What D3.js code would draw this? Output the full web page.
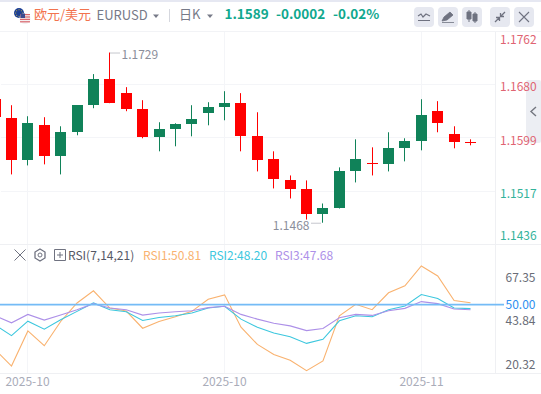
<!DOCTYPE html>
<html>
<head>
<meta charset="utf-8">
<script src="https://cdn.jsdelivr.net/npm/d3@7"></script>
<style>
    html, body { margin: 0; padding: 0; background: #fff; overflow: hidden; }
    text { font-family: "Noto Sans CJK SC", "Noto Sans", sans-serif; }
</style>
</head>
<body>
<div id="chart"></div>
<script>
// daily candles, first one is cut off by the left edge
var opens = [1.16574, 1.16282, 1.15636, 1.16174, 1.15698, 1.16067, 1.16482, 1.16882, 1.16667, 1.16421, 1.15990, 1.16113, 1.16190, 1.16359, 1.16451, 1.16513, 1.16005, 1.15652, 1.15329, 1.15190, 1.14821, 1.14913, 1.15467, 1.15590, 1.15575, 1.15821, 1.15928, 1.16390, 1.16036, 1.15920];
var closes = [1.16298, 1.15636, 1.16205, 1.15698, 1.16067, 1.16482, 1.16882, 1.16513, 1.16421, 1.15990, 1.16113, 1.16190, 1.16267, 1.16451, 1.16513, 1.16005, 1.15636, 1.15344, 1.15190, 1.14821, 1.14913, 1.15467, 1.15652, 1.15575, 1.15821, 1.15928, 1.16328, 1.16205, 1.15913, 1.15905];
var highs = [1.16574, 1.16482, 1.16313, 1.16298, 1.16159, 1.16482, 1.16959, 1.17290, 1.16759, 1.16559, 1.16221, 1.16205, 1.16482, 1.16528, 1.16697, 1.16667, 1.16374, 1.15775, 1.15405, 1.15329, 1.14975, 1.15529, 1.15959, 1.15836, 1.16067, 1.15975, 1.16574, 1.16544, 1.16159, 1.15959];
var lows = [1.16298, 1.15421, 1.15559, 1.15575, 1.15421, 1.16021, 1.16436, 1.16513, 1.16390, 1.15975, 1.15775, 1.15852, 1.16005, 1.16174, 1.16251, 1.15775, 1.15467, 1.15206, 1.15052, 1.14729, 1.14680, 1.14898, 1.15298, 1.15405, 1.15467, 1.15621, 1.15790, 1.16067, 1.15821, 1.15867];

var rsi1 = [29.85, 22.42, 38.18, 31.52, 42.42, 50.76, 56.21, 48.48, 47.12, 39.39, 42.42, 44.55, 46.97, 52.42, 54.39, 39.85, 32.12, 27.58, 25.00, 20.32, 24.70, 45.00, 50.15, 47.73, 55.30, 58.48, 67.35, 62.88, 51.82, 50.81];
var rsi2 = [40.91, 36.06, 42.58, 38.94, 43.18, 46.97, 50.76, 47.73, 46.82, 42.88, 44.24, 45.00, 46.21, 48.48, 49.24, 43.48, 39.85, 37.27, 35.61, 32.58, 34.39, 42.73, 45.00, 44.55, 47.73, 49.39, 54.55, 52.73, 48.48, 48.20];
var rsi3 = [45.00, 41.82, 45.61, 43.03, 45.30, 47.73, 50.45, 48.48, 47.73, 45.30, 46.21, 46.82, 47.27, 48.64, 49.24, 45.61, 43.48, 41.67, 40.45, 38.33, 39.24, 44.09, 45.61, 45.15, 47.27, 48.33, 51.36, 50.45, 48.03, 47.68];

var priceTicks = [1.1762, 1.1680, 1.1599, 1.1517, 1.1436];
var rsiTicks = [67.35, 43.84, 20.32];
var dateTicks = [2, 14, 26];
var dateLabels = ["2025-10", "2025-10", "2025-11"];

function init() {
    var w = 541;
    var h = 394;
    var axisX = 496;
    var upColor = "#108259";
    var downColor = "#ff0000";
    var gridColor = "#f4f5f8";

    var svg = d3.select("#chart")
        .append("svg")
        .attr("width", w)
        .attr("height", h)
        .style("display", "block");

    var xScale = d3.scaleLinear()
        .domain([0, 29])
        .range([-4.9, 470.5]);

    var yScale = d3.scaleLinear()
        .domain([1.1762, 1.1436])
        .range([31, 243.6]);

    var rsiScale = d3.scaleLinear()
        .domain([67.35, 20.32])
        .range([266, 370.7]);

    // the printed rsi labels do not sit on the line scale, they get their own
    var rsiLabelScale = d3.scaleLinear()
        .domain([67.35, 20.32])
        .range([277.6, 364.4]);

    function px(i) { return Math.floor(xScale(i)) + 0.5; }

    // grid
    svg.append("rect").attr("x", 0).attr("y", 0).attr("width", w).attr("height", 2).attr("fill", "#e6e8f2");
    svg.append("rect").attr("x", 0).attr("y", 31).attr("width", w).attr("height", 1).attr("fill", "#f2f3f6");

    svg.selectAll(".hgrid")
        .data(priceTicks.slice(1, 4))
        .enter().append("line")
        .attr("class", "hgrid")
        .attr("x1", 1).attr("x2", axisX)
        .attr("y1", function (d) { return Math.round(yScale(d)) + 0.5; })
        .attr("y2", function (d) { return Math.round(yScale(d)) + 0.5; })
        .style("stroke", gridColor);

    svg.selectAll(".vgrid")
        .data(dateTicks)
        .enter().append("line")
        .attr("class", "vgrid")
        .attr("x1", px).attr("x2", px)
        .attr("y1", 32).attr("y2", 373)
        .style("stroke", gridColor);

    svg.append("line").attr("x1", 0).attr("x2", w).attr("y1", 244.5).attr("y2", 244.5).style("stroke", "#eff0f3");
    svg.append("line").attr("x1", 0).attr("x2", w).attr("y1", 373.5).attr("y2", 373.5).style("stroke", "#eff0f3");
    svg.append("line").attr("x1", axisX - 0.5).attr("x2", axisX - 0.5).attr("y1", 32).attr("y2", 373).style("stroke", "#eff0f3");

    // side tab, goes under the price labels
    svg.append("rect").attr("x", 526).attr("y", 80).attr("width", 15).attr("height", 63).attr("rx", 2).attr("fill", "#eceef3");
    svg.append("path").attr("d", "M536 107L531 111.5L536 116").attr("fill", "none").style("stroke", "#73767f").style("stroke-width", 1.4);

    // candles
    var candles = svg.append("g").attr("class", "candles");
    opens.forEach(function (o, i) {
        var c = closes[i];
        var color = c >= o ? upColor : downColor;
        candles.append("line")
            .attr("x1", px(i)).attr("x2", px(i))
            .attr("y1", yScale(highs[i])).attr("y2", yScale(lows[i]))
            .style("stroke", color);
        candles.append("rect")
            .attr("x", px(i) - 5.5)
            .attr("y", yScale(Math.max(o, c)))
            .attr("width", 11)
            .attr("height", Math.max(1, Math.abs(yScale(o) - yScale(c))))
            .attr("fill", color)
            .attr("shape-rendering", "crispEdges");
    });

    // high and low callouts
    var maxIdx = d3.maxIndex(highs);
    var minIdx = d3.minIndex(lows);
    var note = "#8b8e9b";
    svg.append("line")
        .attr("x1", px(maxIdx) + 1).attr("x2", px(maxIdx) + 11)
        .attr("y1", yScale(highs[maxIdx]) + 0.5).attr("y2", yScale(highs[maxIdx]) + 0.5)
        .style("stroke", note).style("stroke-dasharray", "1, 1");
    svg.append("text")
        .attr("x", px(maxIdx) + 12)
        .attr("y", yScale(highs[maxIdx]) + 6)
        .attr("font-size", 12).attr("fill", note)
        .text("1.1729");
    svg.append("line")
        .attr("x1", px(minIdx) - 11).attr("x2", px(minIdx) - 1)
        .attr("y1", yScale(lows[minIdx]) + 0.5).attr("y2", yScale(lows[minIdx]) + 0.5)
        .style("stroke", note).style("stroke-dasharray", "1, 1");
    svg.append("text")
        .attr("x", px(minIdx) - 13)
        .attr("y", yScale(lows[minIdx]) + 7)
        .attr("text-anchor", "end")
        .attr("font-size", 12).attr("fill", note)
        .text("1.1468");

    // price axis, first and last label are pushed inside the pane
    var priceAxis = d3.axisRight(yScale)
        .tickValues(priceTicks)
        .tickSize(0)
        .tickFormat(d3.format(".4f"));
    var priceG = svg.append("g")
        .attr("transform", "translate(" + (axisX + 1) + ",0)")
        .call(priceAxis);
    priceG.select(".domain").remove();
    priceG.selectAll("text")
        .attr("x", 3)
        .attr("dy", function (d, i) { return [8, 2, 3, 2, -9][i] + 4.4; })
        .attr("font-size", 12)
        .style("font-family", '"Noto Sans CJK SC", sans-serif')
        .attr("fill", function (d) { return d > 1.1589 ? "#df6472" : "#33b39b"; });

    // rsi pane
    var rsiLine = d3.line()
        .x(function (d, i) { return xScale(i); })
        .y(function (d) { return rsiScale(d); });

    [[rsi1, "#f9b26f"], [rsi2, "#3cc7de"], [rsi3, "#ad90e8"]].forEach(function (s) {
        svg.append("path")
            .datum(s[0])
            .attr("d", rsiLine)
            .attr("fill", "none")
            .style("stroke", s[1])
            .style("stroke-width", 1.1);
    });

    svg.append("line")
        .attr("x1", 0).attr("x2", axisX + 8)
        .attr("y1", rsiScale(50)).attr("y2", rsiScale(50))
        .style("stroke", "#74bbf6")
        .style("stroke-width", 1.8);

    svg.append("text")
        .attr("x", 535.5).attr("y", rsiScale(50) + 4.4)
        .attr("text-anchor", "end")
        .attr("font-size", 12).attr("fill", "#2e8ff0")
        .text("50.00");

    svg.selectAll(".rsi-tick")
        .data(rsiTicks)
        .enter().append("text")
        .attr("class", "rsi-tick")
        .attr("x", 535.5)
        .attr("y", function (d) { return rsiLabelScale(d) + 4.4; })
        .attr("text-anchor", "end")
        .attr("font-size", 12)
        .attr("fill", "#6a6d78")
        .text(function (d) { return d3.format(".2f")(d); });

    svg.selectAll(".date-tick")
        .data(dateTicks)
        .enter().append("text")
        .attr("class", "date-tick")
        .attr("x", px)
        .attr("y", 386)
        .attr("text-anchor", "middle")
        .attr("font-size", 12)
        .attr("fill", "#a9acb9")
        .text(function (d, i) { return dateLabels[i]; });

    // rsi header
    var rsiHead = svg.append("g").attr("font-size", 12);
    rsiHead.append("text").attr("x", 68).attr("y", 260).attr("fill", "#555865").text("RSI(7,14,21)");
    rsiHead.append("text").attr("x", 143).attr("y", 260).attr("fill", "#f9b26f").text("RSI1:50.81");
    rsiHead.append("text").attr("x", 209).attr("y", 260).attr("fill", "#3cc7de").text("RSI2:48.20");
    rsiHead.append("text").attr("x", 275).attr("y", 260).attr("fill", "#ad90e8").text("RSI3:47.68");

    var ic = "#6f7280";
    svg.append("path").attr("d", "M14.5 249.5L25.5 260.5M25.5 249.5L14.5 260.5").attr("fill", "none").style("stroke", ic);
    svg.append("path").attr("d", "M40 249L45 252V258L40 261L35 258V252Z").attr("fill", "none").style("stroke", ic).style("stroke-width", 1.3);
    svg.append("circle").attr("cx", 40).attr("cy", 255).attr("r", 2).attr("fill", "none").style("stroke", ic);
    svg.append("path").attr("d", "M54.5 249.5H65.5V260.5H54.5ZM57 255H63M60 252V258").attr("fill", "none").style("stroke", ic);

    // header
    var flag = svg.append("g");
    flag.append("circle").attr("cx", 19).attr("cy", 13).attr("r", 5).attr("fill", "#1c3f94");
    d3.range(8).forEach(function (i) {
        var a = i * Math.PI / 4;
        flag.append("circle").attr("cx", 19 + 3.3 * Math.cos(a)).attr("cy", 13 + 3.3 * Math.sin(a)).attr("r", 0.5).attr("fill", "#e8c92c");
    });
    flag.append("circle").attr("cx", 25).attr("cy", 18.5).attr("r", 5.5).attr("fill", "#f3f1f2");
    d3.range(4).forEach(function (i) {
        flag.append("rect").attr("x", 20).attr("y", 14 + i * 2.4).attr("width", 10).attr("height", 1.2).attr("fill", "#d9656b");
    });
    flag.append("rect").attr("x", 20.5).attr("y", 13.5).attr("width", 4.5).attr("height", 4.5).attr("fill", "#3b4a8f");

    svg.append("text").attr("x", 34).attr("y", 19).attr("font-size", 13).attr("fill", "#f2734e").text("欧元/美元");
    svg.append("text").attr("x", 96.5).attr("y", 20).attr("font-size", 13).attr("fill", "#777a88").text("EURUSD");
    svg.append("path").attr("d", "M153 14.5H159L156 18Z").attr("fill", "#777a88");
    svg.append("line").attr("x1", 169.5).attr("x2", 169.5).attr("y1", 9).attr("y2", 22).style("stroke", "#d5d7de");
    svg.append("text").attr("x", 179).attr("y", 19).attr("font-size", 13).attr("fill", "#777a88").text("日K");
    svg.append("path").attr("d", "M207 14.5H213L210 18Z").attr("fill", "#777a88");

    var headG = svg.append("g").attr("font-size", 13.5).attr("font-weight", "bold").attr("fill", "#10a88e");
    headG.append("text").attr("x", 224.5).attr("y", 19).text("1.1589");
    headG.append("text").attr("x", 276).attr("y", 19).text("-0.0002");
    headG.append("text").attr("x", 333).attr("y", 19).text("-0.02%");

    [414, 438, 462, 490, 514].forEach(function (bx) {
        svg.append("rect").attr("x", bx).attr("y", 7).attr("width", 20).attr("height", 20).attr("rx", 4).attr("fill", "#e6e8f0");
    });
    svg.append("path").attr("d", "M418 20.5H430M418 16L421 14L423 17L426 14L430 16").attr("fill", "none").style("stroke", ic).style("stroke-width", 1.2);
    svg.append("path").attr("d", "M442 21L444 17L450 12L453 15L447 20ZM442 22.5H454").attr("fill", ic).style("stroke", ic).style("stroke-width", 0.8);
    svg.append("path").attr("d", "M467 12H471V19H467ZM473 14H477V21H473ZM469 10V22M475 12V23").attr("fill", ic).style("stroke", ic);
    svg.append("path").attr("d", "M495 22L499 18M496 17.5H499.5V21M505 12L501 16M504 16.5H500.5V13").attr("fill", "none").style("stroke", ic).style("stroke-width", 1.3);
    svg.append("path").attr("d", "M519 12L529 22M529 12L519 22").attr("fill", "none").style("stroke", ic).style("stroke-width", 1.1);
}

window.onload = init;
</script>
</body>
</html>
